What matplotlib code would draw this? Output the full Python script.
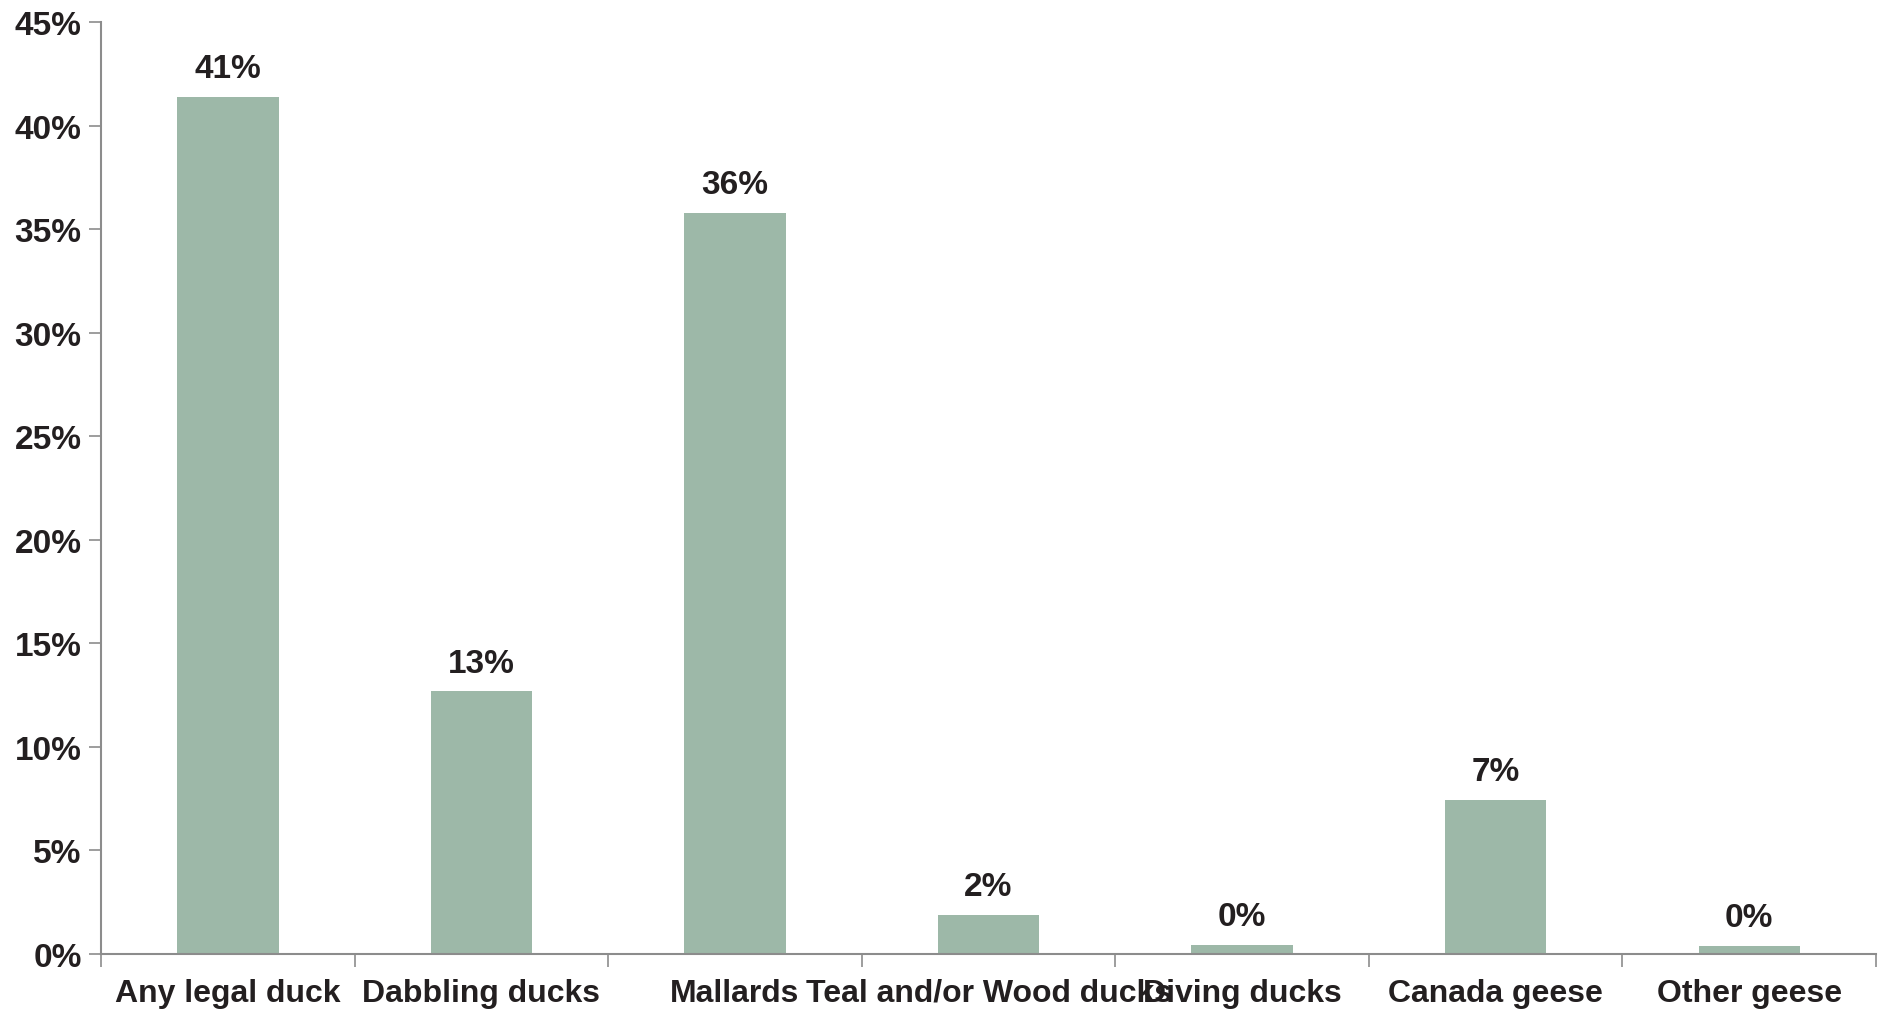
import matplotlib
matplotlib.use("Agg")
import matplotlib.pyplot as plt
from matplotlib.ticker import FixedLocator, PercentFormatter

categories = ["Any legal duck", "Dabbling ducks", "Mallards", "Teal and/or Wood ducks",
              "Diving ducks", "Canada geese", "Other geese"]
values = [41.4, 12.7, 35.8, 1.9, 0.45, 7.45, 0.4]
labels = ["41%", "13%", "36%", "2%", "0%", "7%", "0%"]

plt.rcParams["font.family"] = ["Liberation Sans", "DejaVu Sans"]

text_color = "#231f20"
bar_color = "#9db8a8"
axis_color = "#8c8c8c"

fig = plt.figure(figsize=(18.86, 10.12), dpi=100)
ax = fig.add_axes([0.0536, 0.0563, 0.9411, 0.9207])

x = range(len(categories))
ax.bar(x, values, width=0.4, color=bar_color)
for xi, v, lab in zip(x, values, labels):
    ax.annotate(lab, (xi, v), xytext=(0, 9), textcoords="offset points",
                ha="center", va="bottom", fontsize=24, fontweight="bold",
                color=text_color)

ax.set_xlim(-0.5, len(categories) - 0.5)
ax.set_ylim(0, 45)
ax.set_yticks(range(0, 46, 5))
ax.yaxis.set_major_formatter(PercentFormatter(decimals=0))
ax.set_xticks(list(x))
ax.set_xticklabels(categories)
ax.xaxis.set_minor_locator(FixedLocator([i - 0.5 for i in range(len(categories) + 1)]))

ax.tick_params(axis="x", which="major", length=0, pad=17, labelsize=23,
               labelcolor=text_color)
ax.tick_params(axis="x", which="minor", length=9, width=1.2, color=axis_color)
ax.tick_params(axis="y", length=9, width=1.2, color=axis_color, pad=5,
               labelsize=24, labelcolor=text_color)
for lab in ax.get_xticklabels() + ax.get_yticklabels():
    lab.set_fontweight("bold")

for side in ["top", "right"]:
    ax.spines[side].set_visible(False)
for side in ["left", "bottom"]:
    ax.spines[side].set_color(axis_color)
    ax.spines[side].set_linewidth(1.5)

fig.savefig("out.png", dpi=100)
